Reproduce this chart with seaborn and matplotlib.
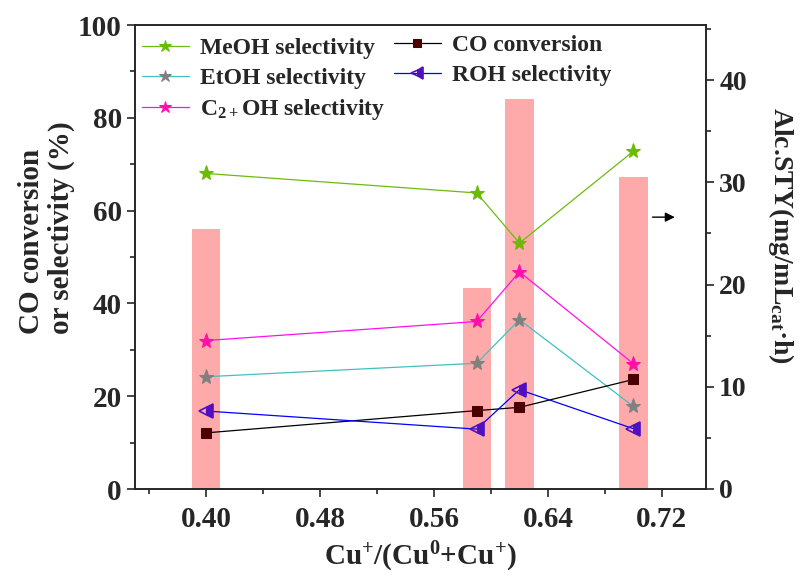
import matplotlib
matplotlib.use("Agg")
import matplotlib.pyplot as plt
import seaborn as sns
import numpy as np
import pandas as pd
from matplotlib.ticker import MultipleLocator

# ---- data ----
ratio = [0.40, 0.59, 0.62, 0.70]
meoh_sel = [68.0, 63.8, 53.0, 72.8]
etoh_sel = [24.2, 27.1, 36.5, 17.8]
c2oh_sel = [32.0, 36.1, 46.8, 27.0]
roh_sel = [16.8, 12.9, 21.4, 13.0]
co_conv = [12.1, 16.9, 17.6, 23.6]
alc_sty = [25.4, 19.7, 38.2, 30.5]

sns.set_style("ticks")
plt.rcParams["font.family"] = ["Liberation Serif", "DejaVu Serif"]
plt.rcParams["font.weight"] = "bold"
plt.rcParams["mathtext.fontset"] = "custom"
plt.rcParams["mathtext.rm"] = "Liberation Serif:bold"
plt.rcParams["mathtext.it"] = "Liberation Serif:bold"
plt.rcParams["mathtext.bf"] = "Liberation Serif:bold"
plt.rcParams["axes.linewidth"] = 1.2

fig = plt.figure(figsize=(8.05, 5.78), dpi=100)
ax = fig.add_axes([135/805, 1-489/578, (706-135)/805, (489-25)/578])
ax2 = ax.twinx()

# bars on secondary axis (behind lines)
sns.barplot(x=ratio, y=alc_sty, native_scale=True, width=0.02/0.03,
            color="#FFAAAA", saturation=1, ax=ax2, edgecolor="none")

lw = 0.9
ms_star = 11
sns.lineplot(x=ratio, y=meoh_sel, ax=ax, color="#6CBB10", lw=lw, marker="*",
             markersize=ms_star, markerfacecolor="#6CBB00", markeredgecolor="#6CBB00",
             label="MeOH selectivity")
sns.lineplot(x=ratio, y=etoh_sel, ax=ax, color="#40C0C0", lw=lw, marker="*",
             markersize=ms_star, markerfacecolor="#808080", markeredgecolor="#808080",
             label="EtOH selectivity")
sns.lineplot(x=ratio, y=c2oh_sel, ax=ax, color="#FF10F0", lw=lw, marker="*",
             markersize=ms_star, markerfacecolor="#FF10A8", markeredgecolor="#FF10A8",
             label=r"C$_{2+}$OH selectivity")
sns.lineplot(x=ratio, y=co_conv, ax=ax, color="black", lw=lw, marker="s",
             markersize=7.5, markerfacecolor="#4A0000", markeredgecolor="#4A0000",
             label="CO conversion")
sns.lineplot(x=ratio, y=roh_sel, ax=ax, color="#0000FF", lw=lw, marker="<",
             markersize=9.5, fillstyle="right", markerfacecolor="#5010C0",
             markerfacecoloralt="none", markeredgecolor="#5010C0", markeredgewidth=1.2,
             label="ROH selectivity")

ax.set_zorder(ax2.get_zorder() + 1)
ax.patch.set_visible(False)

# axes limits & ticks
ax.set_xlim(0.35, 0.751)
ax.set_ylim(0, 100)
ax2.set_ylim(0, 45.4)
ax.set_xticks([0.40, 0.48, 0.56, 0.64, 0.72])
ax.set_xticklabels(["0.40", "0.48", "0.56", "0.64", "0.72"])
ax.xaxis.set_minor_locator(MultipleLocator(0.04))
ax.set_yticks([0, 20, 40, 60, 80, 100])
ax.yaxis.set_minor_locator(MultipleLocator(10))
ax2.set_yticks([0, 10, 20, 30, 40])
ax2.yaxis.set_minor_locator(MultipleLocator(5))

for a in (ax, ax2):
    a.tick_params(which="major", direction="out", length=6, width=1.2, labelsize=21)
    a.tick_params(which="minor", direction="out", length=3.5, width=1.2)
    for s in a.spines.values():
        s.set_visible(True)
        s.set_linewidth(1.2)
ax.tick_params(axis="y", which="both", right=False)
ax.tick_params(axis="x", which="both", top=False, pad=6)
ax2.tick_params(axis="y", which="major", labelsize=20)
for lab in ax.get_xticklabels() + ax.get_yticklabels() + ax2.get_yticklabels():
    lab.set_fontweight("bold")

ax2.set_xlabel("")
ax2.set_ylabel("")
ax.set_xlabel(r"Cu$^{+}$/(Cu$^{0}$+Cu$^{+}$)", fontsize=21, fontweight="bold", labelpad=5)
ax.set_ylabel("")
fig.text(0.058, 1-334/578, "CO conversion\nor selectivity (%)", rotation=90,
         ha="center", va="bottom", multialignment="left", fontsize=21,
         fontweight="bold", linespacing=1.15)
fig.text(781/805, 1-236/578, r"Alc.STY(mg/mL$_{cat}$·h)", rotation=270,
         ha="center", va="center", fontsize=20, fontweight="bold")

# arrow pointing to the right axis
ax2.annotate("", xy=(0.7310, 26.6), xytext=(0.7115, 26.6),
             arrowprops=dict(arrowstyle="-|>", color="black", lw=1.0,
                             mutation_scale=14))

# legends
handles, labels = ax.get_legend_handles_labels()
if ax.get_legend() is not None:
    ax.get_legend().remove()
legprops = dict(weight="bold", size=17)
leg1 = ax.legend(handles[:3], labels[:3], loc="upper left",
                 bbox_to_anchor=(137/805, 1-33/578), bbox_transform=fig.transFigure,
                 frameon=False, prop=legprops, handlelength=2.0, handletextpad=0.45,
                 labelspacing=0.34, borderaxespad=0, borderpad=0.2, markerscale=0.85)
ax.add_artist(leg1)
leg2 = ax.legend(handles[3:], labels[3:], loc="upper left",
                 bbox_to_anchor=(389/805, 1-30/578), bbox_transform=fig.transFigure,
                 frameon=False, prop=legprops, handlelength=2.0, handletextpad=0.45,
                 labelspacing=0.34, borderaxespad=0, borderpad=0.2, markerscale=0.85)

fig.savefig("out.png", dpi=100)
